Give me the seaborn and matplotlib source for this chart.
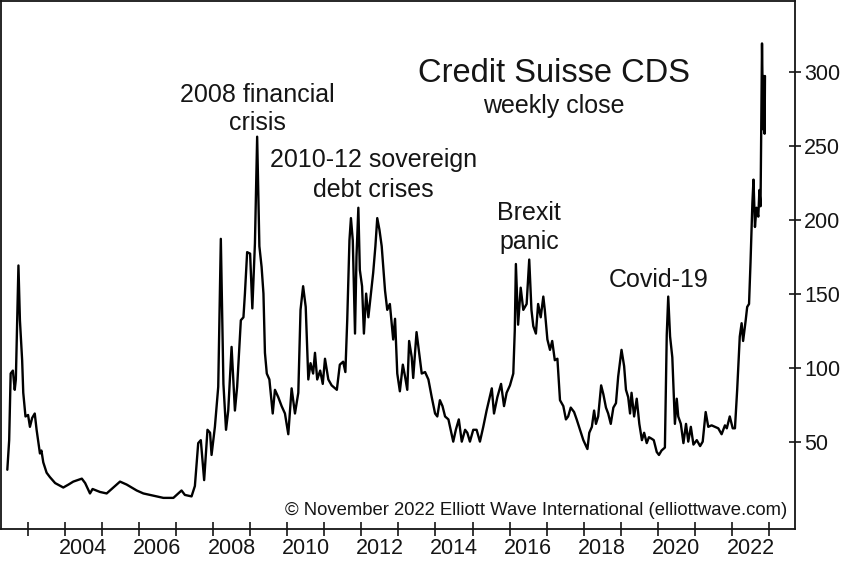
import matplotlib
matplotlib.use("Agg")
import matplotlib.pyplot as plt
import numpy as np
import pandas as pd
import seaborn as sns

# weekly close (decimal year, basis points)
years = [
    2002.45, 2002.50, 2002.54, 2002.60, 2002.65, 2002.68, 2002.75, 2002.79, 2002.85, 2002.88,
    2002.94, 2003.01, 2003.06, 2003.12, 2003.19, 2003.24, 2003.33, 2003.37, 2003.42, 2003.51,
    2003.60, 2003.74, 2003.96, 2004.10, 2004.23, 2004.46, 2004.55, 2004.68, 2004.75, 2004.95,
    2005.13, 2005.31, 2005.49, 2005.67, 2005.94, 2006.12, 2006.30, 2006.66, 2006.93, 2007.15,
    2007.24, 2007.42, 2007.51, 2007.60, 2007.67, 2007.76, 2007.85, 2007.92, 2007.96, 2008.05,
    2008.14, 2008.21, 2008.28, 2008.35, 2008.41, 2008.50, 2008.59, 2008.65, 2008.75, 2008.82,
    2008.86, 2008.92, 2009.00, 2009.06, 2009.13, 2009.19, 2009.25, 2009.31, 2009.36, 2009.40,
    2009.45, 2009.52, 2009.61, 2009.67, 2009.76, 2009.85, 2009.94, 2010.03, 2010.12, 2010.21,
    2010.30, 2010.36, 2010.43, 2010.50, 2010.57, 2010.63, 2010.70, 2010.75, 2010.81, 2010.89,
    2010.96, 2011.02, 2011.11, 2011.20, 2011.34, 2011.42, 2011.51, 2011.57, 2011.62, 2011.68,
    2011.72, 2011.77, 2011.83, 2011.87, 2011.92, 2011.96, 2012.02, 2012.07, 2012.13, 2012.19,
    2012.25, 2012.32, 2012.38, 2012.43, 2012.49, 2012.55, 2012.64, 2012.70, 2012.77, 2012.86,
    2012.91, 2012.97, 2013.04, 2013.12, 2013.18, 2013.24, 2013.29, 2013.36, 2013.40, 2013.49,
    2013.56, 2013.63, 2013.72, 2013.81, 2013.90, 2013.99, 2014.05, 2014.12, 2014.19, 2014.26,
    2014.35, 2014.41, 2014.48, 2014.55, 2014.63, 2014.71, 2014.80, 2014.86, 2014.93, 2015.02,
    2015.11, 2015.20, 2015.29, 2015.38, 2015.52, 2015.58, 2015.67, 2015.77, 2015.85, 2015.92,
    2016.01, 2016.10, 2016.14, 2016.17, 2016.23, 2016.30, 2016.37, 2016.46, 2016.53, 2016.59,
    2016.64, 2016.71, 2016.77, 2016.84, 2016.91, 2016.95, 2017.02, 2017.09, 2017.15, 2017.22,
    2017.29, 2017.36, 2017.45, 2017.52, 2017.58, 2017.65, 2017.74, 2017.81, 2017.90, 2017.99,
    2018.10, 2018.15, 2018.22, 2018.28, 2018.33, 2018.39, 2018.47, 2018.53, 2018.60, 2018.66,
    2018.73, 2018.80, 2018.87, 2018.93, 2019.02, 2019.09, 2019.14, 2019.20, 2019.25, 2019.29,
    2019.36, 2019.43, 2019.50, 2019.57, 2019.63, 2019.70, 2019.76, 2019.83, 2019.89, 2019.97,
    2020.03, 2020.10, 2020.19, 2020.24, 2020.28, 2020.33, 2020.39, 2020.46, 2020.51, 2020.55,
    2020.62, 2020.69, 2020.76, 2020.82, 2020.89, 2020.96, 2021.05, 2021.14, 2021.21, 2021.29,
    2021.36, 2021.45, 2021.54, 2021.63, 2021.72, 2021.81, 2021.86, 2021.94, 2022.02, 2022.08,
    2022.14, 2022.21, 2022.26, 2022.30, 2022.37, 2022.41, 2022.46, 2022.50, 2022.55, 2022.58,
    2022.62, 2022.66, 2022.71, 2022.74, 2022.77, 2022.81, 2022.84, 2022.86, 2022.88, 2022.89,
]
cds = [
    31, 51, 96, 98, 85, 92, 169, 132, 105, 83,
    67, 68, 60, 66, 69, 58, 42, 44, 36, 29,
    26, 22, 19, 21, 23, 25, 22, 15, 18, 16,
    15, 19, 23, 21, 17, 15, 14, 12, 12, 17,
    14, 13, 20, 49, 51, 24, 58, 56, 41, 60,
    87, 187, 89, 58, 71, 114, 71, 87, 132, 134,
    150, 178, 177, 140, 184, 256, 182, 168, 150, 110,
    96, 92, 69, 85, 80, 74, 69, 55, 86, 69,
    83, 139, 155, 141, 92, 103, 96, 110, 92, 98,
    89, 106, 92, 88, 85, 102, 104, 97, 132, 186,
    201, 186, 123, 175, 208, 166, 155, 123, 150, 134,
    148, 164, 182, 201, 193, 182, 152, 139, 143, 119,
    133, 96, 84, 102, 94, 85, 118, 107, 93, 124,
    110, 96, 97, 92, 80, 69, 67, 78, 74, 67,
    65, 58, 50, 58, 65, 50, 58, 56, 50, 58,
    58, 50, 60, 71, 86, 69, 80, 89, 74, 83,
    88, 96, 125, 170, 129, 154, 139, 143, 173, 139,
    128, 123, 143, 134, 148, 139, 119, 112, 118, 105,
    106, 78, 74, 65, 67, 73, 70, 65, 58, 51,
    45, 56, 60, 71, 62, 67, 88, 82, 73, 69,
    62, 73, 76, 94, 112, 101, 85, 80, 69, 83,
    67, 79, 62, 51, 56, 49, 53, 52, 51, 43,
    41, 44, 46, 122, 148, 121, 107, 62, 79, 67,
    62, 49, 62, 50, 60, 48, 51, 47, 50, 70,
    60, 61, 60, 59, 55, 61, 59, 67, 59, 59,
    85, 121, 130, 118, 132, 141, 143, 171, 211, 227,
    195, 208, 202, 220, 209, 319, 261, 297, 258, 297,
]

year_ticks = list(range(2003, 2024))
label_years = list(range(2004, 2023, 2))
value_ticks = [50, 100, 150, 200, 250, 300]

df = pd.DataFrame({"year": years, "cds": cds})

sns.set_style("white")
plt.rcParams["font.family"] = ["Liberation Sans", "DejaVu Sans"]
ink = "#151515"

fig = plt.figure(figsize=(8.48, 5.62), dpi=100)
ax = fig.add_axes([0.0012, 0.0593, 0.9363, 0.9398])

sns.lineplot(data=df, x="year", y="cds", color="black", linewidth=1.7,
             estimator=None, sort=False, ax=ax)

ax.set_xlim(2002.28, 2023.70)
ax.set_ylim(-8.8, 348)
ax.set_xlabel("")
ax.set_ylabel("")

for s in ax.spines.values():
    s.set_visible(True)
    s.set_color(ink)
    s.set_linewidth(1.3)

# year ticks on boundaries, labels centred inside every second year
ax.set_xticks(year_ticks)
ax.set_xticklabels([])
ax.set_xticks([y + 0.5 for y in label_years], minor=True)
ax.set_xticklabels([str(y) for y in label_years], minor=True)
ax.tick_params(axis="x", which="major", direction="inout", length=10, width=1.2,
               color=ink, bottom=True)
ax.tick_params(axis="x", which="minor", length=0, pad=7, labelsize=15.5, labelcolor=ink)

ax.yaxis.tick_right()
ax.set_yticks(value_ticks)
ax.set_yticklabels([str(v) for v in value_ticks])
ax.tick_params(axis="y", direction="inout", length=9, width=1.2, color=ink,
               pad=2, labelsize=15.5, labelcolor=ink, left=False, right=True)

ax.text(2017.20, 299, "Credit Suisse CDS", ha="center", va="center", fontsize=23.5, color=ink)
ax.text(2017.20, 277, "weekly close", ha="center", va="center", fontsize=18, color=ink)
ax.text(2009.20, 284, "2008 financial", ha="center", va="center", fontsize=18, color=ink)
ax.text(2009.20, 265, "crisis", ha="center", va="center", fontsize=18, color=ink)
ax.text(2012.32, 240, "2010-12 sovereign", ha="center", va="center", fontsize=18, color=ink)
ax.text(2012.32, 220, "debt crises", ha="center", va="center", fontsize=18, color=ink)
ax.text(2016.53, 204.5, "Brexit", ha="center", va="center", fontsize=18, color=ink)
ax.text(2016.53, 185, "panic", ha="center", va="center", fontsize=18, color=ink)
ax.text(2020.02, 159, "Covid-19", ha="center", va="center", fontsize=18, color=ink)
ax.text(2023.48, 3.2, "\u00a9 November 2022 Elliott Wave International (elliottwave.com)",
        ha="right", va="center", fontsize=13.3, color=ink)

fig.savefig("out.png", dpi=100, facecolor="white")
